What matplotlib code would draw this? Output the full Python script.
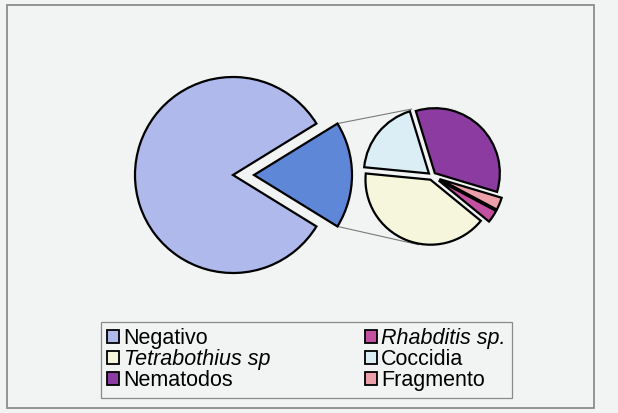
import matplotlib
matplotlib.use("Agg")
import matplotlib.pyplot as plt
import numpy as np
from matplotlib.patches import Rectangle, Patch

plt.rcParams['font.family'] = ['Liberation Sans', 'DejaVu Sans']

# ---- data ----
main_labels = ["Negativo", "Otros"]
main_values = [150, 32]
sub_labels = ["Fragmento", "Nematodos", "Coccidia", "Tetrabothius sp", "Rhabditis sp."]
sub_values = [1, 11, 6, 13, 1]
legend_order = ["Negativo", "Tetrabothius sp", "Nematodos", "Rhabditis sp.", "Coccidia", "Fragmento"]
italic_labels = ["Tetrabothius sp", "Rhabditis sp."]

# ---- styles ----
main_colors = ["#afb9eb", "#5f87d7"]
sub_colors = {"Fragmento": "#eba0aa", "Nematodos": "#8c3ca0", "Coccidia": "#dceef5",
              "Tetrabothius sp": "#f5f6dc", "Rhabditis sp.": "#c350a0"}
bg = "#f2f3f3"

W, H = 618, 413
fig = plt.figure(figsize=(W / 100, H / 100), dpi=100, facecolor=bg)
ax = fig.add_axes([0, 0, 1, 1])
ax.set_facecolor(bg)

wp = dict(edgecolor="black", linewidth=1.6)

# main pie: Otros first, centred on angle 0
otros_frac = main_values[1] / sum(main_values)
start_main = -otros_frac * 180
main_center = (233, H - 175)
main_r = 98
main_explode = 21
ax.pie([main_values[1], main_values[0]], colors=[main_colors[1], main_colors[0]],
       startangle=start_main, counterclock=True, center=main_center, radius=main_r,
       explode=[main_explode, 0], wedgeprops=wp, frame=True)

# secondary pie
sub_center = (432, H - 176)
sub_r = 65
sub_explode = [8, 4, 4, 4, 8]
sub_wedges, _ = ax.pie(sub_values, colors=[sub_colors[l] for l in sub_labels],
                       startangle=-28, counterclock=True, center=sub_center, radius=sub_r,
                       explode=sub_explode, wedgeprops=wp, frame=True)

# connector lines
half = np.deg2rad(otros_frac * 180)
oc = (main_center[0] + main_explode, main_center[1])
for sgn, ang in [(1, 107), (-1, 259)]:
    p0 = (oc[0] + main_r * np.cos(half), oc[1] + sgn * main_r * np.sin(half))
    a = np.deg2rad(ang)
    p1 = (sub_center[0] + 70 * np.cos(a), sub_center[1] + 70 * np.sin(a))
    ax.plot([p0[0], p1[0]], [p0[1], p1[1]], color="#7a7a7a", lw=0.8, zorder=0)

# legend
handles = []
for l in legend_order:
    c = main_colors[0] if l == "Negativo" else sub_colors[l]
    handles.append(Patch(facecolor=c, edgecolor="black", linewidth=1.3))
leg = ax.legend(handles, legend_order, ncol=2, loc="upper left",
                bbox_to_anchor=(101, H - 395, 411, 73), bbox_transform=ax.transData,
                mode="expand", borderaxespad=0, fontsize=15.5, frameon=True,
                fancybox=False, edgecolor="#8a8a8a", facecolor=bg, framealpha=1,
                handlelength=0.55, handleheight=0.55, handletextpad=0.2,
                labelspacing=0.0, borderpad=0.3)
leg.get_frame().set_linewidth(0.9)
for t in leg.get_texts():
    if t.get_text() in italic_labels:
        t.set_fontstyle("italic")

# outer frame
ax.add_patch(Rectangle((7, H - 408), 587, 403, fill=False, edgecolor="#8c8c8c", lw=1.3))

ax.set_xlim(0, W)
ax.set_ylim(0, H)
ax.set_aspect("equal")
ax.axis("off")
fig.savefig("out.png", dpi=100, facecolor=bg)
